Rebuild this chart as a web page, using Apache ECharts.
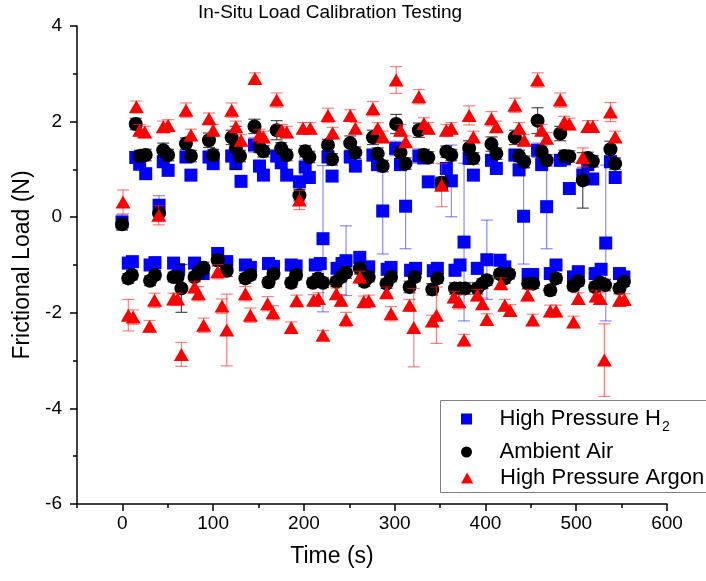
<!DOCTYPE html>
<html>
<head>
<meta charset="utf-8">
<script src="https://cdn.jsdelivr.net/npm/echarts@6/dist/echarts.min.js"></script>
<style>
html,body{margin:0;padding:0;background:#fff;}
#chart{width:706px;height:581px;}
</style>
</head>
<body>
<div id="chart"></div>
<script>
// ---------- data ----------
const titleText = 'In-Situ Load Calibration Testing';
const xName = 'Time (s)';
const yName = 'Frictional Load (N)';
const seriesNames = ['High Pressure H2', 'Ambient Air', 'High Pressure Argon'];
const xMajorTicks = [0, 100, 200, 300, 400, 500, 600];
const xMinorTicks = [-50, 50, 150, 250, 350, 450, 550];

// High Pressure H2
const h2Time = [-0.4, 14.7, 19, 25.7, 40.4, 45, 50.4, 70, 75.5, 95.4, 100, 120.4, 125, 130.7, 145.5, 151, 155.4, 170, 175, 181,
  195, 201.4, 206, 221, 226.5, 231, 251, 256.7, 276, 281, 286.8, 301, 306.4, 312, 326.6, 332, 337, 351.7, 356.9, 362.4,
  376.4, 382, 386.7, 406.6, 412, 432.4, 437, 442, 457.4, 461.9, 467.4, 482.4, 487, 492.4, 507.2, 512.7, 518.2, 532.5, 537.7, 542.9,
  6.5, 11, 30.5, 35.9, 56.4, 61.9, 79.5, 89, 105, 115, 135.5, 141, 161, 166.5, 186, 191.4, 212.5, 218, 236.5, 242, 246.4,
  261.5, 271.4, 291.7, 296, 317.5, 323, 342.5, 347, 366.4, 372, 391, 401.5, 416, 421.3, 447, 452, 471.4, 477.7, 497, 502.3,
  520.8, 527.4, 547.6, 552.5];
const h2Load = [-0.10, 1.25, 1.11, 0.91, 0.25, 1.16, 0.98, 1.26, 0.88, 1.26, 1.12, 1.28, 1.12, 0.75, 1.51, 1.07, 0.88, 1.28, 1.14, 0.88,
  0.74, 1.05, 0.83, -0.45, 1.26, 0.86, 1.26, 1.07, 1.30, 1.10, 0.13, 1.44, 1.10, 0.23, 1.28, 1.24, 0.74, 0.70, 1.02, 0.76,
  -0.52, 1.23, 0.88, 1.19, 1.02, 1.30, 0.99, 0.02, 1.40, 1.10, 0.22, 1.19, 1.22, 0.60, 0.88, 1.10, 0.80, -0.54, 1.16, 0.83,
  -0.96, -0.93, -1.00, -0.95, -0.96, -1.10, -0.96, -1.18, -0.76, -0.93, -1.00, -1.05, -0.97, -1.03, -1.00, -1.02, -1.00, -0.97, -1.07, -0.97, -0.91,
  -0.84, -1.04, -1.09, -1.05, -1.11, -1.07, -1.12, -1.07, -1.11, -1.00, -1.07, -0.89, -0.90, -1.04, -1.20, -1.20, -1.18, -1.00, -1.25, -1.14,
  -1.18, -1.09, -1.18, -1.25];
const h2Err = [0.15, 0.12, 0.12, 0.10, 0.20, 0.12, 0.10, 0.12, 0.10, 0.12, 0.10, 0.12, 0.10, 0.10, 0.15, 0.12, 0.10, 0.12, 0.12, 0.10,
  0.12, 0.15, 0.12, 1.53, 0.12, 0.10, 0.12, 0.12, 0.12, 0.12, 0.90, 0.15, 0.12, 0.89, 0.15, 0.12, 0.10, 0.12, 0.12, 0.75,
  1.65, 0.12, 0.10, 0.12, 0.12, 0.12, 0.12, 1.00, 0.15, 0.12, 0.88, 0.12, 0.12, 0.10, 0.15, 0.12, 0.10, 1.63, 0.12, 0.12,
  0.10, 0.10, 0.10, 0.10, 0.10, 0.12, 0.10, 0.12, 0.10, 0.12, 0.10, 0.10, 0.10, 0.10, 0.10, 0.10, 0.10, 0.10, 0.10, 0.10, 0.73,
  0.10, 0.12, 0.12, 0.10, 0.12, 0.10, 0.12, 0.10, 0.12, 0.10, 0.12, 0.83, 0.10, 0.12, 0.12, 0.10, 0.12, 0.10, 0.12, 0.10,
  0.12, 0.10, 0.12, 0.10];

// Ambient Air
const airTime = [-0.4, 14.7, 19, 25.7, 40.4, 45, 50.4, 70, 75.5, 95.4, 100, 120.4, 125, 129.6, 145.5, 151, 155.4, 170, 175, 181,
  195, 201.4, 206, 226.5, 231, 251, 256.7, 276, 281.3, 286.8, 301.6, 306.4, 312, 326.6, 332.2, 337, 351.7, 356.9, 362.4,
  382, 386.7, 406.6, 412, 432.4, 437, 442.7, 457.4, 461.9, 467.4, 482.4, 486.9, 492.4, 507.2, 512.7, 518.2, 537.7, 542.9,
  6.5, 10.5, 30.5, 35.9, 56.4, 60.8, 65, 79.5, 84, 89.5, 105, 115, 135.5, 141, 161, 166.5, 186, 191.4, 210, 215.5, 221,
  235.7, 241, 246.4, 261.5, 266.6, 271.4, 291, 296, 316.4, 322, 341.4, 347, 366.4, 372, 377.5, 391, 396.7, 401.5,
  416, 421.3, 426, 447, 452.6, 471.4, 477.7, 497, 502.3, 520.8, 526.6, 531.8, 547.6, 552.5];
const airLoad = [-0.15, 1.95, 1.28, 1.30, 0.08, 1.40, 1.30, 1.54, 1.28, 1.61, 1.30, 1.67, 1.45, 1.28, 1.90, 1.47, 1.38, 1.82, 1.44, 1.30,
  0.46, 1.38, 1.26, 1.51, 1.21, 1.55, 1.35, 1.67, 1.33, 1.07, 1.95, 1.35, 1.12, 1.82, 1.30, 1.25, 0.72, 1.37, 1.30,
  1.45, 1.23, 1.53, 1.33, 1.67, 1.28, 1.16, 2.02, 1.37, 1.19, 1.75, 1.28, 1.27, 0.77, 1.24, 1.17, 1.42, 1.12,
  -1.28, -1.21, -1.33, -1.21, -1.25, -1.25, -1.49, -1.25, -1.15, -1.06, -0.90, -1.12, -1.28, -1.21, -1.36, -1.19, -1.37, -1.21, -1.37, -1.28, -1.37,
  -1.35, -1.25, -1.16, -1.07, -1.35, -1.25, -1.39, -1.25, -1.46, -1.25, -1.51, -1.28, -1.49, -1.49, -1.49, -1.49, -1.39, -1.32,
  -1.19, -1.28, -1.19, -1.39, -1.39, -1.53, -1.28, -1.44, -1.34, -1.46, -1.37, -1.42, -1.49, -1.35];
const airErr = [0.12, 0.12, 0.12, 0.12, 0.15, 0.15, 0.12, 0.12, 0.12, 0.15, 0.12, 0.15, 0.45, 0.12, 0.15, 0.12, 0.12, 0.20, 0.12, 0.12,
  0.12, 0.12, 0.12, 0.12, 0.12, 0.15, 0.12, 0.15, 0.12, 0.12, 0.20, 0.12, 0.12, 0.15, 0.12, 0.12, 0.12, 0.12, 0.12,
  0.15, 0.12, 0.15, 0.12, 0.15, 0.12, 0.12, 0.27, 0.12, 0.12, 0.15, 0.12, 0.12, 0.58, 0.12, 0.12, 0.17, 0.12,
  0.10, 0.10, 0.10, 0.10, 0.10, 0.10, 0.50, 0.10, 0.12, 0.12, 0.12, 0.12, 0.10, 0.10, 0.10, 0.10, 0.10, 0.10, 0.10, 0.10, 0.10,
  0.10, 0.10, 0.12, 0.12, 0.10, 0.10, 0.10, 0.10, 0.12, 0.10, 0.12, 0.10, 0.12, 0.12, 0.12, 0.12, 0.10, 0.10,
  0.10, 0.10, 0.10, 0.10, 0.10, 0.10, 0.10, 0.10, 0.10, 0.10, 0.10, 0.12, 0.10, 0.10];

// High Pressure Argon
const arTime = [0.7, 15.4, 19, 24.6, 40, 45, 50.4, 70, 75.5, 95.4, 100, 120.4, 125, 130.7, 146, 151, 155.4, 170, 175.7, 181,
  195, 199, 207, 226.5, 231.6, 251, 256.7, 276, 281.3, 286.8, 301.6, 306.4, 312, 326.6, 332.2, 337, 351.7, 356.9, 362.4,
  382, 386.7, 406.6, 412, 432.4, 437, 442.7, 457.4, 461.9, 467.4, 482.4, 486.9, 492.4, 507.2, 512.7, 518.2, 537.7, 542.9,
  6.5, 11.9, 30, 35.4, 56.4, 60.8, 65, 79.5, 83.7, 89.5, 105, 109.8, 115, 135.5, 141, 160, 166, 186, 192, 210.6, 216, 221,
  235.7, 241, 246.4, 261.5, 265.9, 271.4, 291, 296, 316.4, 321, 341.4, 346, 365.3, 370.8, 376.4, 391, 396.7, 401.5,
  417, 421.3, 427.2, 446.4, 452, 471.4, 477.7, 497, 502.3, 521.9, 526.6, 531, 547.6, 553];
const arLoad = [0.32, 2.31, 1.82, 1.78, 0.04, 1.89, 1.92, 2.24, 1.72, 2.06, 1.82, 2.24, 1.89, 1.61, 2.90, 1.72, 1.68, 2.45, 1.82, 1.78,
  0.36, 1.86, 1.86, 2.13, 1.76, 2.13, 1.86, 2.27, 1.86, 1.68, 2.87, 1.82, 1.58, 2.52, 1.96, 1.86, 0.67, 1.82, 1.86,
  2.13, 1.68, 2.06, 1.89, 2.34, 1.86, 1.61, 2.87, 1.82, 1.65, 2.45, 1.99, 1.95, 1.25, 1.90, 1.90, 2.20, 1.68,
  -2.05, -2.09, -2.28, -1.74, -1.71, -1.71, -2.87, -1.46, -1.60, -2.26, -1.14, -1.86, -2.36, -1.60, -2.05, -1.81, -2.00, -2.31, -1.75, -1.74, -1.70, -2.47,
  -1.60, -1.74, -2.14, -1.25, -1.77, -1.75, -1.58, -2.02, -1.84, -2.31, -2.17, -2.05, -1.67, -1.77, -2.57, -1.63, -1.81, -2.14,
  -1.39, -1.84, -1.95, -1.63, -2.15, -1.96, -1.96, -2.19, -1.70, -1.65, -1.70, -2.99, -1.74, -1.72];
const arErr = [0.25, 0.12, 0.12, 0.12, 0.20, 0.12, 0.12, 0.15, 0.12, 0.12, 0.12, 0.15, 0.12, 0.12, 0.12, 0.12, 0.12, 0.15, 0.12, 0.12,
  0.20, 0.12, 0.12, 0.15, 0.12, 0.12, 0.12, 0.15, 0.12, 0.12, 0.28, 0.12, 0.12, 0.15, 0.12, 0.12, 0.45, 0.12, 0.12,
  0.20, 0.12, 0.15, 0.12, 0.15, 0.12, 0.12, 0.15, 0.12, 0.12, 0.15, 0.12, 0.12, 0.20, 0.12, 0.12, 0.20, 0.12,
  0.33, 0.15, 0.12, 0.15, 0.12, 0.12, 0.25, 0.12, 0.15, 0.15, 0.15, 0.15, 0.75, 0.15, 0.15, 0.15, 0.15, 0.12, 0.12, 0.12, 0.12, 0.10,
  0.12, 0.12, 0.15, 0.12, 0.12, 0.12, 0.12, 0.15, 0.12, 0.82, 0.12, 0.59, 0.12, 0.15, 0.12, 0.12, 0.12, 0.12,
  0.12, 0.12, 0.12, 0.12, 0.12, 0.12, 0.12, 0.12, 0.12, 0.12, 0.12, 0.76, 0.12, 0.12];

// ---------- build ----------
const FONT = "'Liberation Sans', Arial, sans-serif";
function pts(t, v) { return t.map((x, i) => [x, v[i]]); }
function errPts(t, v, e) { return t.map((x, i) => [x, v[i], e[i]]); }
function errRender(color) {
  return function (params, api) {
    const x = api.value(0), y = api.value(1), e = api.value(2);
    const top = api.coord([x, y + e]);
    const bot = api.coord([x, y - e]);
    const hw = 6;
    const st = { stroke: color, lineWidth: 1.2, fill: null };
    return {
      type: 'group',
      children: [
        { type: 'line', shape: { x1: top[0], y1: top[1], x2: bot[0], y2: bot[1] }, style: st },
        { type: 'line', shape: { x1: top[0] - hw, y1: top[1], x2: top[0] + hw, y2: top[1] }, style: st },
        { type: 'line', shape: { x1: bot[0] - hw, y1: bot[1], x2: bot[0] + hw, y2: bot[1] }, style: st }
      ]
    };
  };
}

const legendIcons = ['path://M0,0H10V10H0Z', 'circle', 'path://M5,0L10,9L0,9Z'];
const legendTops = [408, 441, 467];
function makeLegend(i) {
  return {
    orient: 'vertical',
    left: 461, top: legendTops[i],
    padding: 0,
    itemWidth: 56, itemHeight: 11,
    data: [{ name: seriesNames[i], icon: legendIcons[i] }],
    formatter: function (name) {
      if (name === seriesNames[0]) return '{a|High Pressure H}{sub|2}';
      return '{b|' + name + '}';
    },
    textStyle: {
      fontFamily: FONT, fontSize: 22, color: '#000',
      rich: {
        a: { fontFamily: FONT, fontSize: 22, color: '#000' },
        sub: { fontFamily: FONT, fontSize: 14, color: '#000', padding: [16, 0, 0, 1] },
        b: { fontFamily: FONT, fontSize: 22, color: '#000' }
      }
    }
  };
}

const chart = echarts.init(document.getElementById('chart'), null, { renderer: 'canvas' });
const axisLineStyle = { color: '#000', width: 1.5 };
const option = {
  backgroundColor: '#fff',
  animation: false,
  title: {
    text: titleText,
    left: 193, top: -2,
    textStyle: { fontFamily: FONT, fontSize: 19, fontWeight: 'normal', color: '#000' }
  },
  grid: { left: 77, right: 39, top: 26, bottom: 77, containLabel: false },
  graphic: [{
    type: 'rect', left: 440, top: 400, z: 0,
    shape: { width: 268, height: 92 },
    style: { fill: '#fff', stroke: '#808080', lineWidth: 1 }
  }],
  legend: [makeLegend(0), makeLegend(1), makeLegend(2)],
  xAxis: [{
    type: 'value', min: -50, max: 600, interval: 50,
    name: xName, nameLocation: 'middle', nameGap: 41,
    nameTextStyle: { fontFamily: FONT, fontSize: 23, color: '#000', padding: [0, 80, 0, 0] },
    axisLine: { show: true, onZero: false, lineStyle: axisLineStyle },
    axisTick: { show: true, customValues: xMajorTicks, length: 7, lineStyle: { color: '#000', width: 1.5 } },
    axisLabel: { customValues: xMajorTicks, margin: 10, fontFamily: FONT, fontSize: 19, color: '#000' },
    splitLine: { show: false }
  }, {
    type: 'value', min: -50, max: 600, interval: 50, position: 'bottom',
    axisLine: { show: false, onZero: false },
    axisTick: { show: true, customValues: xMinorTicks, length: 4, lineStyle: { color: '#000', width: 1.5 } },
    axisLabel: { show: false },
    splitLine: { show: false }
  }],
  yAxis: {
    type: 'value', min: -6, max: 4, interval: 2,
    name: yName, nameLocation: 'middle', nameGap: 37,
    nameTextStyle: { fontFamily: FONT, fontSize: 23, color: '#000' },
    axisLine: { show: true, onZero: false, lineStyle: axisLineStyle },
    axisTick: { show: true, length: 7, lineStyle: { color: '#000', width: 1.5 } },
    minorTick: { show: true, splitNumber: 2, length: 4, lineStyle: { color: '#000', width: 1.5 } },
    axisLabel: { margin: 15, fontFamily: FONT, fontSize: 19, color: '#000' },
    splitLine: { show: false }
  },
  series: [
    { name: 'H2 error', type: 'custom', z: 1, renderItem: errRender('rgba(40,40,255,0.55)'),
      encode: { x: 0, y: 1 }, data: errPts(h2Time, h2Load, h2Err) },
    { name: seriesNames[0], type: 'scatter', z: 2, symbol: 'rect', symbolSize: 13,
      itemStyle: { color: '#0000ff', opacity: 1 }, data: pts(h2Time, h2Load) },
    { name: 'Air error', type: 'custom', z: 3, renderItem: errRender('rgba(0,0,0,0.7)'),
      encode: { x: 0, y: 1 }, data: errPts(airTime, airLoad, airErr) },
    { name: seriesNames[1], type: 'scatter', z: 4, symbol: 'circle', symbolSize: 14,
      itemStyle: { color: '#000000', opacity: 1 }, data: pts(airTime, airLoad) },
    { name: 'Argon error', type: 'custom', z: 5, renderItem: errRender('rgba(255,40,40,0.6)'),
      encode: { x: 0, y: 1 }, data: errPts(arTime, arLoad, arErr) },
    { name: seriesNames[2], type: 'scatter', z: 6, symbol: 'triangle', symbolSize: [15, 13],
      itemStyle: { color: '#ff0000', opacity: 1 }, data: pts(arTime, arLoad) }
  ]
};
chart.setOption(option);
</script>
</body>
</html>
